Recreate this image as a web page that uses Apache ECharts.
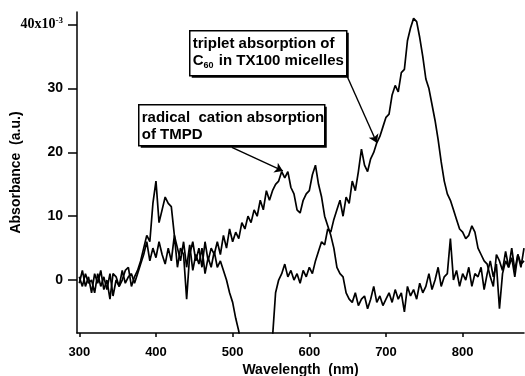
<!DOCTYPE html>
<html>
<head>
<meta charset="utf-8">
<script src="https://cdn.jsdelivr.net/npm/echarts@6/dist/echarts.min.js"></script>
<style>
html,body{margin:0;padding:0;background:#fff;}
#chart{width:525px;height:376px;}
</style>
</head>
<body>
<div id="chart"></div>
<script>
// Sampling grid of wavelengths (nm): 300 .. 880, every 4 nm
const wlStart = 300, wlStep = 4;

// Radical cation absorption of TMPD (absorbance, x10^-3)
const tmpd = [
  0.5, -1, 1, -0.5, 0, -2, 1, -1, 0.5, -1.5,
  1, -2.5, 0, -1, 1.5, -0.5, 0.5, 1, -0.5, 1,
  2.5, 4, 6, 3, 5, 3.5, 6, 4, 2.5, 5,
  3, 7, 2, 5, 4, -3, 4, 6, 3, 5,
  2, 6, 3, 5, 4, 6, 4, 7, 5, 8,
  6, 7.5, 6.5, 9, 8, 10, 9, 11, 10, 12.5,
  11, 14, 12.5, 14, 15, 15.5, 17, 16, 17, 14.5,
  13.5, 11, 10.5, 12.5, 13.5, 14, 16.5, 18, 15, 13,
  10, 8.5, 7, 5, 2, 1, 0.5, -2, -3, -3.5,
  -2, -4, -3, -2.5, -4.5, -3, -1, -3.5, -2.5, -4,
  -3, -2, -3.5, -1.5, -3, -2, -5, -1, -2.5, -1.5,
  -3, -0.5, -2, -1, 1, -1.5, 0, 2, -1, 0.5,
  1, 6.5, 0, 1.5, -1, 1, 0, 2, -1, 1,
  0.5, 2, -1.5, 1, 3, 0.5, 2.5, -4.5, 1, 3,
  2, 5, 1.5, 4, 2, 5
];

// Triplet absorption of C60 in TX100 micelles (absorbance, x10^-3)
const c60 = [
  -0.5, 1.5, -1, 0.5, -2, 1, -0.5, 1.5, -1.5, 0,
  -3, 1, 0.5, -1, 0, 1.5, 2, -1, 0.5, 1.5,
  3, 5, 7, 6, 12, 15.5, 9, 11, 13, 12,
  11.5, 7, 5, 3, 6, 2, 5.5, 1.5, 4, 2.5,
  5, 1, 3.5, 2, 4.5, 2, 3, 1.5, 0, -2,
  -3.5, -6, -8, -12, -15, -15, -15, -15, -15, -15,
  -15, -15, -15, -9, -2, 0, 1, 2.5, 0.5, 1.5,
  0, 1, -0.5, 1.5, 0.5, 2, 1, 3, 4.5, 6,
  5.5, 8, 7.5, 9.5, 11, 12.5, 10, 13, 12, 15.5,
  14, 17, 20.5, 18, 17, 19, 20, 21.5, 22.5, 24,
  25.5, 26, 29, 30.5, 29.5, 32.5, 33, 37.5, 39.5, 41,
  40.5, 38, 35, 31.5, 30, 27.5, 25, 22, 18.5, 15.5,
  13.5, 12.5, 11, 9.5, 8, 7.5, 6.5, 7, 8.5, 7.5,
  5, 4, 3, 2.5, 0.5, -1, 4, 3, 1.5, 4.5,
  2, 3.5, 0.5, 4, 2.5, 3
];

// Tick labels
const xTicks = [300, 400, 500, 600, 700, 800];
const yTicks = [0, 10, 20, 30, 40];

// Annotation arrows (data coords): [from, to]
const arrowC60 = [[649, 32], [688, 21.5]];
const arrowTmpd = [[499, 20.8], [565.5, 17.1]];

const wavelengths = tmpd.map((_, i) => wlStart + i * wlStep);

const FONT = 'Liberation Sans';
const chart = echarts.init(document.getElementById('chart'), null, {renderer: 'canvas'});

function box(x, y, w, h, lines) {
  return {
    type: 'group', left: x, top: y,
    children: [
      {type: 'rect', shape: {x: 2, y: 2, width: w, height: h}, style: {fill: '#000'}, z: 10},
      {type: 'rect', shape: {x: 0, y: 0, width: w, height: h}, style: {fill: '#fff', stroke: '#000', lineWidth: 1.5}, z: 11},
      {type: 'text', x: 3, y: 5, z: 12, style: {
        text: lines, font: 'bold 15px ' + FONT, fill: '#000', lineHeight: 17,
        rich: {
          n: {fontSize: 15, fontFamily: FONT, fontWeight: 'bold', fill: '#000', lineHeight: 17},
          s: {fontSize: 9, fontFamily: FONT, fontWeight: 'bold', fill: '#000', lineHeight: 17, padding: [8, 1, 0, 0]}
        }
      }}
    ]
  };
}

chart.setOption({
  animation: false,
  backgroundColor: '#fff',
  grid: {left: 77, right: 1, top: 12, bottom: 43, containLabel: false, outerBoundsMode: 'none'},
  xAxis: {
    type: 'value', min: 297, max: 880,
    name: 'Wavelength  (nm)', nameLocation: 'middle', nameGap: 30, nameMoveOverlap: false,
    nameTextStyle: {fontFamily: FONT, fontSize: 14, color: '#000', fontWeight: 'bold'},
    axisLine: {show: true, onZero: false, lineStyle: {color: '#000', width: 1.5}},
    axisTick: {show: true, customValues: xTicks, length: 4, inside: false, lineStyle: {color: '#000', width: 1.5}},
    axisLabel: {customValues: xTicks, margin: 13, fontFamily: FONT, fontSize: 13, fontWeight: 'bold', color: '#000'},
    splitLine: {show: false}
  },
  yAxis: {
    type: 'value', min: -8.3, max: 42,
    name: 'Absorbance  (a.u.)', nameLocation: 'middle', nameRotate: 90, nameGap: 54, nameMoveOverlap: false,
    nameTextStyle: {fontFamily: FONT, fontSize: 14, color: '#000', fontWeight: 'bold'},
    axisLine: {show: true, onZero: false, lineStyle: {color: '#000', width: 1.5}},
    axisTick: {show: true, customValues: yTicks, length: 9, lineStyle: {color: '#000', width: 1.5}},
    axisLabel: {
      customValues: yTicks, margin: 14, fontFamily: FONT, fontSize: 14, fontWeight: 'bold', color: '#000',
      formatter: v => v === 40 ? '{a|40x10}{e|-3}' : String(v),
      rich: {
        a: {fontFamily: 'Liberation Serif', fontSize: 14, color: '#000', fontWeight: 'bold'},
        e: {fontFamily: 'Liberation Serif', fontSize: 9, color: '#000', fontWeight: 'bold', verticalAlign: 'top', padding: [0, 0, 9, 0]}
      }
    },
    splitLine: {show: false}
  },
  series: [
    {
      type: 'line', name: 'TMPD radical cation', showSymbol: false, clip: true,
      data: wavelengths.map((w, i) => [w, tmpd[i]]),
      lineStyle: {color: '#000', width: 1.7},
      markLine: {
        silent: true, symbol: ['none', 'arrow'], symbolSize: 8, label: {show: false},
        lineStyle: {color: '#000', width: 1.4, type: 'solid'},
        data: [[{coord: arrowTmpd[0]}, {coord: arrowTmpd[1]}]]
      }
    },
    {
      type: 'line', name: 'C60 triplet', showSymbol: false, clip: true,
      data: wavelengths.map((w, i) => [w, c60[i]]),
      lineStyle: {color: '#000', width: 1.7},
      markLine: {
        silent: true, symbol: ['none', 'arrow'], symbolSize: 8, label: {show: false},
        lineStyle: {color: '#000', width: 1.4, type: 'solid'},
        data: [[{coord: arrowC60[0]}, {coord: arrowC60[1]}]]
      }
    }
  ],
  graphic: [
    box(189, 30, 157, 45, '{n|triplet absorption of}\n{n|C}{s|60}{n| in TX100 micelles}'),
    box(138, 104, 186, 41, '{n|radical  cation absorption}\n{n|of TMPD}')
  ]
});
</script>
</body>
</html>
